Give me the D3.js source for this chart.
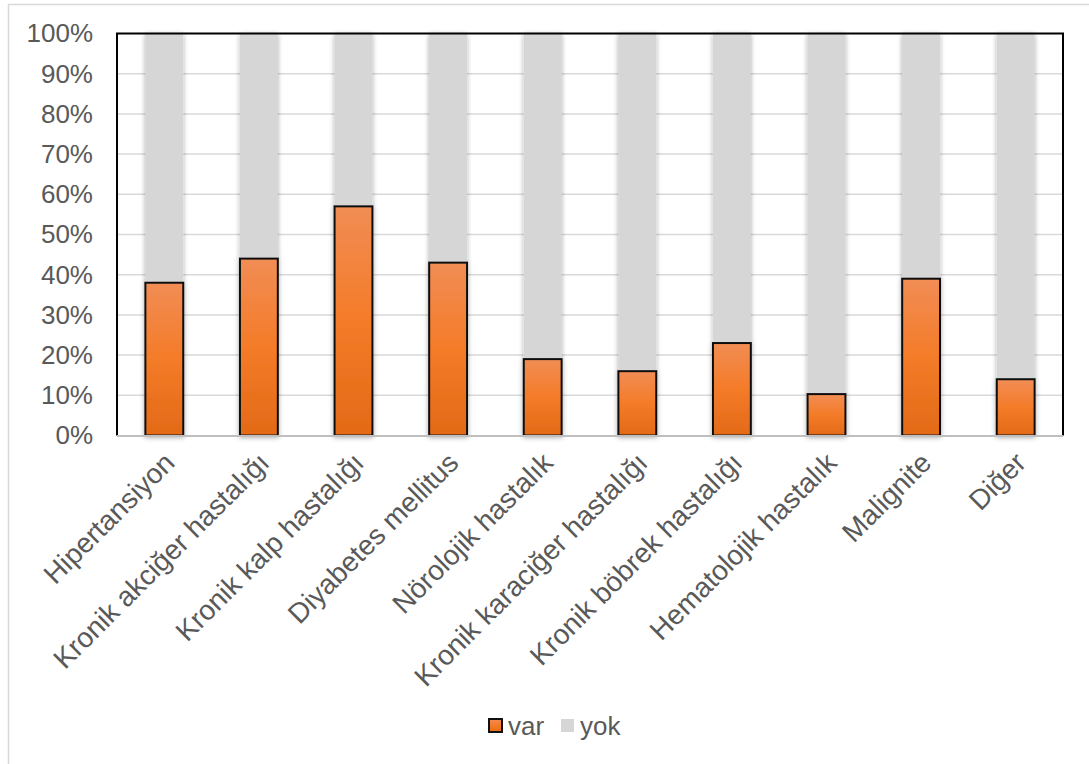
<!DOCTYPE html>
<html>
<head>
<meta charset="utf-8">
<script src="https://cdn.jsdelivr.net/npm/d3@7"></script>
<style>
  html, body { margin: 0; padding: 0; background: #fff; }
  svg { display: block; font-family: "Liberation Sans", Arial, sans-serif; }
</style>
</head>
<body>
<svg id="chart" width="1089" height="764"></svg>
<script>
// Comorbidity categories and share of patients with (var) / without (yok)
const categories = [
  "Hipertansiyon",
  "Kronik akciğer hastalığı",
  "Kronik kalp hastalığı",
  "Diyabetes mellitus",
  "Nörolojik hastalık",
  "Kronik karaciğer hastalığı",
  "Kronik böbrek hastalığı",
  "Hematolojik hastalık",
  "Malignite",
  "Diğer"
];
const varValues = [38, 44, 57, 43, 19, 16, 23, 10.3, 39, 14];
const yokValues = varValues.map(v => 100 - v);
const seriesNames = ["var", "yok"];
const yTicks = [0, 10, 20, 30, 40, 50, 60, 70, 80, 90, 100];

const svg = d3.select("#chart");
const plot = { left: 117, top: 33.5, right: 1063, bottom: 435.5 };
const fontSize = "26px";

const defs = svg.append("defs");
const grad = defs.append("linearGradient")
  .attr("id", "orangeGrad").attr("x1", 0).attr("y1", 0).attr("x2", 0).attr("y2", 1);
grad.append("stop").attr("offset", "0%").attr("stop-color", "#f18d55");
grad.append("stop").attr("offset", "50%").attr("stop-color", "#f47b28");
grad.append("stop").attr("offset", "100%").attr("stop-color", "#e36a17");

const shadow = defs.append("filter").attr("id", "shadow")
  .attr("x", "-50%").attr("y", "-10%").attr("width", "200%").attr("height", "120%");
shadow.append("feDropShadow").attr("dx", 0).attr("dy", 1).attr("stdDeviation", 2.5)
  .attr("flood-color", "#000").attr("flood-opacity", 0.35);

// outer chart frame
svg.append("rect").attr("x", 8.5).attr("y", 4.5).attr("width", 1100).attr("height", 800)
  .attr("fill", "none").attr("stroke", "#d9d9d9").attr("stroke-width", 1.5);

const x = d3.scaleBand().domain(categories).range([plot.left, plot.right]).paddingInner(0.6).paddingOuter(0.3);
const y = d3.scaleLinear().domain([0, 100]).range([plot.bottom, plot.top]);

// gridlines
svg.append("g").selectAll("line").data(yTicks.filter(t => t > 0 && t < 100)).join("line")
  .attr("x1", plot.left).attr("x2", plot.right)
  .attr("y1", d => y(d)).attr("y2", d => y(d))
  .attr("stroke", "#d9d9d9").attr("stroke-width", 1.5);

// y axis labels
const yAxis = d3.axisLeft(y).tickValues(yTicks).tickFormat(d => d + "%").tickSize(0).tickPadding(24);
const yg = svg.append("g").attr("transform", `translate(${plot.left},0)`).call(yAxis);
yg.select(".domain").remove();
yg.selectAll("text").attr("fill", "#595959").style("font-size", fontSize)
  .style("font-family", "'Liberation Sans', Arial, sans-serif");

// stacked bars
const stackData = categories.map((c, i) => ({ cat: c, var: varValues[i], yok: yokValues[i] }));
const stacked = d3.stack().keys(seriesNames)(stackData);
const fills = { var: "url(#orangeGrad)", yok: "#d6d6d6" };

const barsG = svg.append("g").attr("filter", "url(#shadow)");
stacked.slice().reverse().forEach(layer => {
  barsG.append("g").selectAll("rect").data(layer).join("rect")
    .attr("x", d => x(d.data.cat))
    .attr("width", x.bandwidth())
    .attr("y", d => y(d[1]))
    .attr("height", d => y(d[0]) - y(d[1]))
    .attr("fill", fills[layer.key])
    .attr("stroke", layer.key === "var" ? "#111" : "none")
    .attr("stroke-width", 2);
});

// plot frame: black left/top/right, gray baseline
svg.append("path")
  .attr("d", `M${plot.left},${plot.bottom} V${plot.top} H${plot.right} V${plot.bottom}`)
  .attr("fill", "none").attr("stroke", "#000").attr("stroke-width", 2);
svg.append("line").attr("x1", plot.left).attr("x2", plot.right)
  .attr("y1", plot.bottom + 0.5).attr("y2", plot.bottom + 0.5)
  .attr("stroke", "#bfbfbf").attr("stroke-width", 2);

// category labels rotated 45°
svg.append("g").selectAll("text").data(categories).join("text")
  .attr("transform", d => `translate(${x(d) + x.bandwidth() / 2 + 12},${plot.bottom + 29}) rotate(-45)`)
  .attr("text-anchor", "end")
  .attr("fill", "#595959").style("font-size", "28px")
  .text(d => d);

// legend
const legend = svg.append("g").attr("transform", "translate(489,719)");
const items = [
  { name: "var", fill: "url(#orangeGrad)", stroke: "#111", x: 0 },
  { name: "yok", fill: "#d6d6d6", stroke: "none", x: 72 }
];
items.forEach(it => {
  legend.append("rect").attr("x", it.x).attr("y", 0).attr("width", 13).attr("height", 13)
    .attr("fill", it.fill).attr("stroke", it.stroke).attr("stroke-width", 2);
  legend.append("text").attr("x", it.x + 19).attr("y", 16)
    .attr("fill", "#595959").style("font-size", fontSize).text(it.name);
});
</script>
</body>
</html>
